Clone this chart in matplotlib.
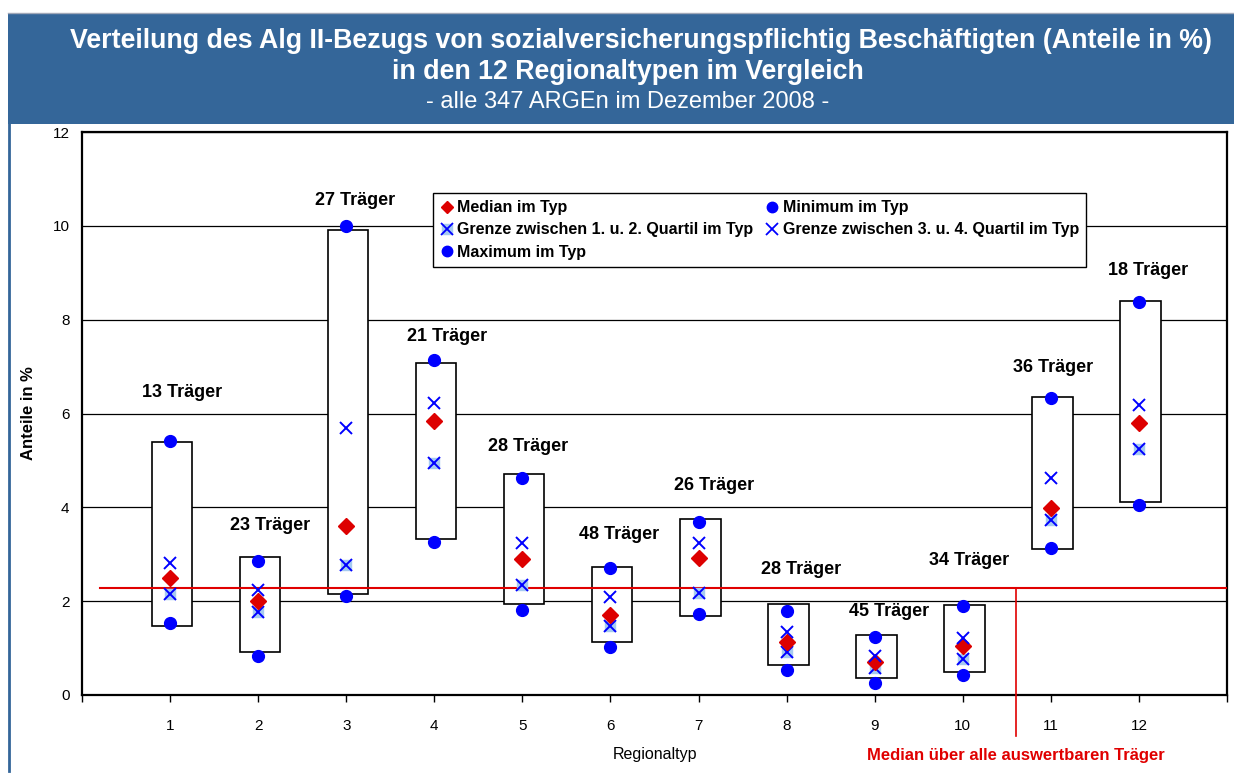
import matplotlib
matplotlib.use("Agg")
import matplotlib.pyplot as plt
from matplotlib.patches import Rectangle
from matplotlib.lines import Line2D
from matplotlib.legend_handler import HandlerTuple

plt.rcParams['font.family'] = ['Liberation Sans', 'DejaVu Sans']

# Daten je Regionaltyp
regionaltyp = [1, 2, 3, 4, 5, 6, 7, 8, 9, 10, 11, 12]
minimum = [1.54, 0.83, 2.11, 3.27, 1.81, 1.02, 1.72, 0.53, 0.26, 0.43, 3.14, 4.04]
quartil_1 = [2.15, 1.76, 2.77, 4.95, 2.34, 1.48, 2.18, 0.92, 0.57, 0.76, 3.72, 5.25]
median = [2.50, 2.01, 3.61, 5.84, 2.90, 1.71, 2.93, 1.12, 0.71, 1.05, 3.98, 5.80]
quartil_3 = [2.81, 2.24, 5.69, 6.23, 3.23, 2.09, 3.23, 1.34, 0.83, 1.21, 4.63, 6.18]
maximum = [5.42, 2.86, 10.00, 7.14, 4.63, 2.71, 3.68, 1.78, 1.24, 1.90, 6.33, 8.38]
box_unten = [1.47, 0.92, 2.15, 3.32, 1.93, 1.12, 1.69, 0.63, 0.36, 0.50, 3.12, 4.12]
box_oben = [5.40, 2.94, 9.91, 7.08, 4.70, 2.73, 3.75, 1.93, 1.27, 1.92, 6.35, 8.40]
traeger = [13, 23, 27, 21, 28, 48, 26, 28, 45, 34, 36, 18]
median_gesamt = 2.28

# Position der Beschriftungen "N Träger" (x, y in Daten)
label_pos = [(1.14, 6.44), (2.14, 3.62), (3.10, 10.53), (4.15, 7.65), (5.06, 5.29),
             (6.10, 3.43), (7.18, 4.46), (8.16, 2.67), (9.16, 1.77), (10.07, 2.86),
             (11.03, 6.97), (12.10, 9.04)]

fig = plt.figure(figsize=(12.34, 7.74), dpi=100)
fig.patch.set_facecolor('white')

# blauer Kopfbereich
blau = '#346699'
fig.add_artist(Rectangle((8 / 1234, 1 - 124 / 774), 1 - 8 / 1234, 111 / 774,
                         transform=fig.transFigure, facecolor=blau, edgecolor='none'))
fig.add_artist(Line2D([8 / 1234, 1], [1 - 13 / 774, 1 - 13 / 774], transform=fig.transFigure,
                      color='#a0a8b8', lw=1))
fig.add_artist(Line2D([9 / 1234, 9 / 1234], [1 - 124 / 774, 1 - 771 / 774], transform=fig.transFigure,
                      color=blau, lw=2))

fig.text(641 / 1234, 1 - 41 / 774,
         'Verteilung des Alg II-Bezugs von sozialversicherungspflichtig Beschäftigten (Anteile in %)',
         ha='center', va='center', color='white', fontsize=19.3, fontweight='bold')
fig.text(628 / 1234, 1 - 72 / 774, 'in den 12 Regionaltypen im Vergleich',
         ha='center', va='center', color='white', fontsize=19.3, fontweight='bold')
fig.text(628 / 1234, 1 - 102 / 774, '- alle 347 ARGEn im Dezember 2008 -',
         ha='center', va='center', color='white', fontsize=17)

ax = fig.add_axes([82 / 1234, 1 - 695 / 774, (1227 - 82) / 1234, (695 - 132) / 774])
ax.set_xlim(0, 13)
ax.set_ylim(0, 12)

for y in range(2, 13, 2):
    ax.axhline(y, color='black', lw=0.9, zorder=1)

for x, lo, hi in zip(regionaltyp, box_unten, box_oben):
    ax.add_patch(Rectangle((x - 0.21, lo), 0.46, hi - lo, facecolor='white',
                           edgecolor='black', lw=1.2, zorder=2))

# Median ueber alle Traeger
ax.plot([0.2, 13], [median_gesamt, median_gesamt], color='#e00000', lw=1.5, zorder=3)
ax.plot([10.6, 10.6], [median_gesamt, -0.87], color='#e00000', lw=1.2, zorder=3, clip_on=False)
ax.text(10.6, -1.28, 'Median über alle auswertbaren Träger', color='#e00000',
        fontsize=12, fontweight='bold', ha='center', va='center', clip_on=False)

ax.plot(regionaltyp, minimum, 'o', color='#0000ff', ms=8.5, zorder=4)
ax.plot(regionaltyp, maximum, 'o', color='#0000ff', ms=8.5, zorder=4)
ax.plot(regionaltyp, quartil_1, 's', color='#a6caf0', ms=7, zorder=4)
ax.plot(regionaltyp, quartil_1, 'x', color='#0000ff', ms=9, mew=1.4, zorder=5)
ax.plot(regionaltyp, median, 'D', color='#dd0000', ms=8.5, zorder=5)
ax.plot(regionaltyp, quartil_3, 'x', color='#0000ff', ms=9, mew=1.4, zorder=6)

for n, (lx, ly) in zip(traeger, label_pos):
    ax.text(lx, ly, f'{n} Träger', ha='center', va='center', fontsize=13, fontweight='bold')

ax.set_xticks(range(0, 14))
ax.set_xticklabels([''] + [str(r) for r in regionaltyp] + [''])
ax.set_yticks(range(0, 13, 2))
ax.tick_params(axis='x', direction='out', length=5, width=1, labelsize=11, pad=12)
ax.tick_params(axis='y', length=0, labelsize=11, pad=9)
for s in ax.spines.values():
    s.set_linewidth(1.6)
ax.set_xlabel('Regionaltyp', fontsize=11.5, labelpad=10)
ax.set_ylabel('Anteile in %', fontsize=12, fontweight='bold', labelpad=12)

h_med = Line2D([], [], marker='D', color='#dd0000', ls='none', ms=6.5)
h_min = Line2D([], [], marker='o', color='#0000ff', ls='none', ms=7.5)
h_q1 = (Line2D([], [], marker='s', color='#a6caf0', ls='none', ms=6.5),
        Line2D([], [], marker='x', color='#0000ff', ls='none', ms=8.5, mew=1.3))
h_q3 = Line2D([], [], marker='x', color='#0000ff', ls='none', ms=8.5, mew=1.3)
h_max = Line2D([], [], marker='o', color='#0000ff', ls='none', ms=7.5)
leg = ax.legend([h_med, h_q1, h_max, h_min, h_q3],
                ['Median im Typ', 'Grenze zwischen 1. u. 2. Quartil im Typ', 'Maximum im Typ',
                 'Minimum im Typ', 'Grenze zwischen 3. u. 4. Quartil im Typ'],
                handler_map={tuple: HandlerTuple(ndivide=1, pad=0)},
                ncol=2, loc='upper left', bbox_to_anchor=((433 - 82) / 1145, (695 - 193) / 563),
                prop={'weight': 'bold', 'size': 11.5}, frameon=True, fancybox=False,
                edgecolor='black', framealpha=1, handlelength=0.8, handletextpad=0.25,
                columnspacing=0.8, borderpad=0.45, labelspacing=0.45, borderaxespad=0)
leg.get_frame().set_linewidth(1)
leg.set_zorder(10)

fig.savefig('out.png', dpi=100)
